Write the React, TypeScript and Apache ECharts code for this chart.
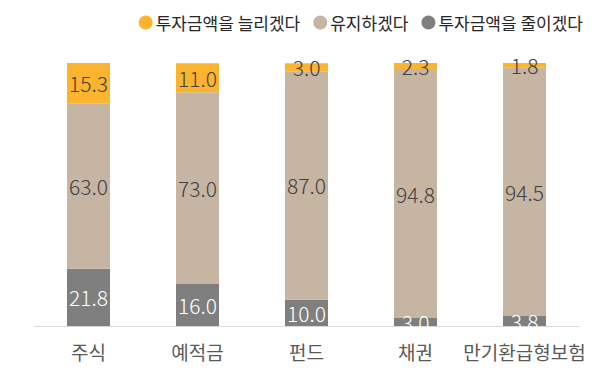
import React, { useEffect, useRef } from "react";
import * as echarts from "echarts";

const categories = ["주식", "예적금", "펀드", "채권", "만기환급형보험"];
const decreaseValues = [21.8, 16.0, 10.0, 3.0, 3.8];
const keepValues = [63.0, 73.0, 87.0, 94.8, 94.5];
const increaseValues = [15.3, 11.0, 3.0, 2.3, 1.8];
const seriesNames = ["투자금액을 늘리겠다", "유지하겠다", "투자금액을 줄이겠다"];

const FONT = "'Noto Sans CJK KR', 'Noto Sans', sans-serif";

export default function App() {
  const ref = useRef<HTMLDivElement>(null);
  useEffect(() => {
    if (!ref.current) return;
    const chart = echarts.init(ref.current, undefined, { renderer: "svg" });
    const label = (color: string) => ({
      show: true,
      position: "inside" as const,
      color,
      fontSize: 21,
      fontFamily: FONT,
      fontWeight: 300,
      formatter: (p: any) => Number(p.value).toFixed(1),
    });
    chart.setOption({
      animation: false,
      textStyle: { fontFamily: FONT },
      legend: {
        data: seriesNames,
        top: 9,
        right: 22,
        icon: "circle",
        itemWidth: 14,
        itemHeight: 14,
        itemGap: 13,
        textStyle: { fontSize: 17, color: "#262626", fontFamily: FONT, padding: [0, 0, 0, -2] },
      },
      grid: { left: 34, right: 31, top: 63, bottom: 58 },
      xAxis: {
        type: "category",
        data: categories,
        axisLine: { lineStyle: { color: "#D9D9D9", width: 1 } },
        axisTick: { show: false },
        axisLabel: {
          interval: 0,
          fontSize: 19,
          color: "#595959",
          margin: 16,
          fontFamily: FONT,
        },
      },
      yAxis: {
        type: "value",
        min: 0,
        max: 100.1,
        show: false,
        splitLine: { show: false },
      },
      series: [
        {
          name: seriesNames[2],
          type: "bar",
          stack: "s",
          data: decreaseValues,
          barWidth: 43,
          itemStyle: { color: "#7F7F7F" },
          label: label("#FFFFFF"),
        },
        {
          name: seriesNames[1],
          type: "bar",
          stack: "s",
          data: keepValues,
          barWidth: 43,
          itemStyle: { color: "#C7B5A4" },
          label: label("#404040"),
        },
        {
          name: seriesNames[0],
          type: "bar",
          stack: "s",
          data: increaseValues,
          barWidth: 43,
          itemStyle: { color: "#FBB42E" },
          label: label("#404040"),
        },
      ],
    });
    return () => chart.dispose();
  }, []);
  return (
    <div
      ref={ref}
      style={{ position: "absolute", left: 0, top: 0, width: 610, height: 384 }}
    />
  );
}
